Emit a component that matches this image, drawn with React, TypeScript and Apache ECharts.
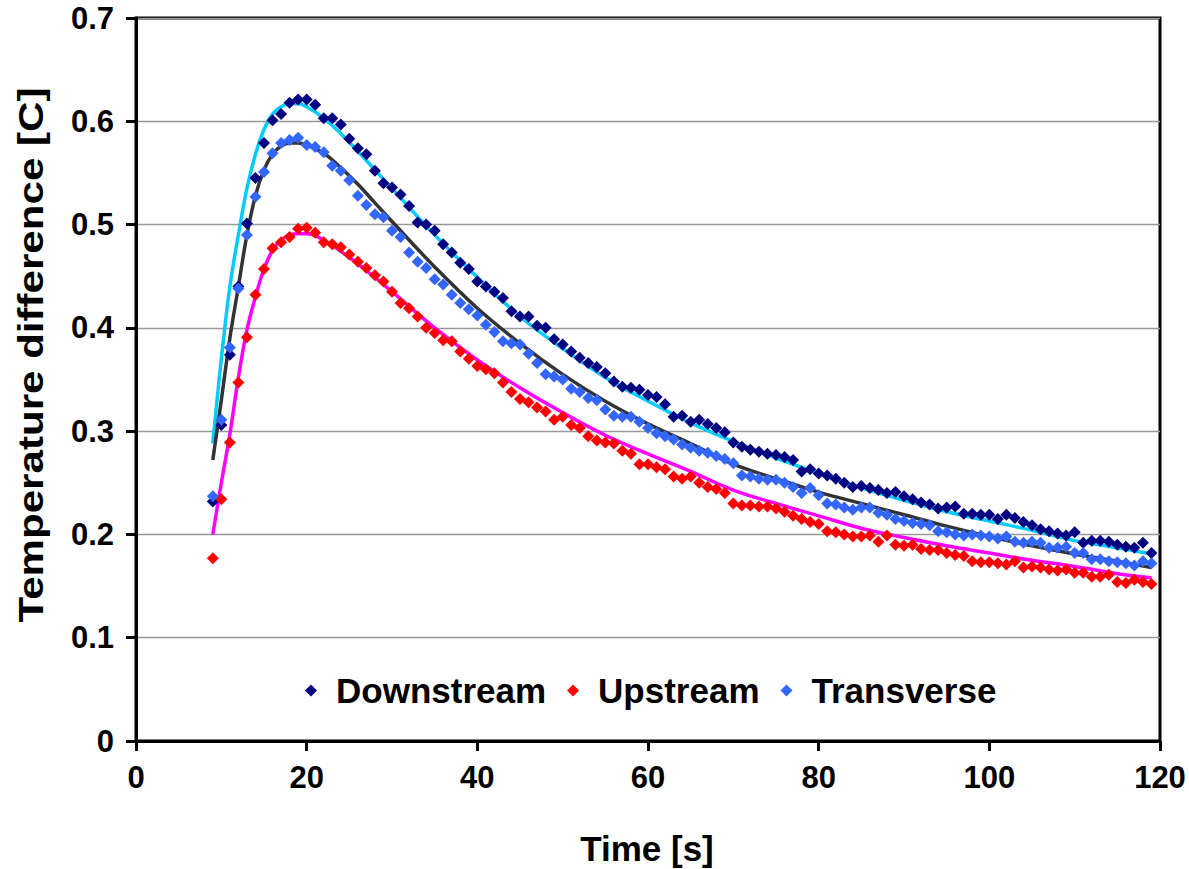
import React, { useEffect, useRef } from "react";
import * as echarts from "echarts";

const FONT = '"Liberation Sans", Arial, sans-serif';

// Time of each measured sample [s]
const timeS = [
  9, 10, 11, 12, 13, 14, 15, 16, 17, 18,
  19, 20, 21, 22, 23, 24, 25, 26, 27, 28,
  29, 30, 31, 32, 33, 34, 35, 36, 37, 38,
  39, 40, 41, 42, 43, 44, 45, 46, 47, 48,
  49, 50, 51, 52, 53, 54, 55, 56, 57, 58,
  59, 60, 61, 62, 63, 64, 65, 66, 67, 68,
  69, 70, 71, 72, 73, 74, 75, 76, 77, 78,
  79, 80, 81, 82, 83, 84, 85, 86, 87, 88,
  89, 90, 91, 92, 93, 94, 95, 96, 97, 98,
  99, 100, 101, 102, 103, 104, 105, 106, 107, 108,
  109, 110, 111, 112, 113, 114, 115, 116, 117, 118, 119,
];

const downstream = [
  0.232, 0.306, 0.374, 0.44, 0.501, 0.545, 0.579, 0.601, 0.607, 0.618,
  0.621, 0.621, 0.616, 0.603, 0.603, 0.597, 0.583, 0.574, 0.568, 0.552,
  0.54, 0.536, 0.529, 0.518, 0.502, 0.5, 0.494, 0.481, 0.473, 0.463,
  0.457, 0.445, 0.44, 0.435, 0.429, 0.416, 0.411, 0.411, 0.402, 0.4,
  0.389, 0.384, 0.377, 0.371, 0.366, 0.362, 0.356, 0.348, 0.343, 0.342,
  0.34, 0.335, 0.333, 0.326, 0.314, 0.315, 0.309, 0.311, 0.307, 0.303,
  0.299, 0.289, 0.285, 0.282, 0.28, 0.278, 0.277, 0.275, 0.272, 0.261,
  0.263, 0.259, 0.257, 0.254, 0.25, 0.246, 0.247, 0.245, 0.243, 0.24,
  0.241, 0.237, 0.234, 0.231, 0.229, 0.225, 0.226, 0.227, 0.22, 0.22,
  0.219, 0.219, 0.215, 0.219, 0.216, 0.212, 0.209, 0.205, 0.203, 0.201,
  0.199, 0.202, 0.192, 0.194, 0.194, 0.193, 0.19, 0.188, 0.187, 0.192, 0.182,
];

const upstream = [
  0.177, 0.234, 0.289, 0.347, 0.391, 0.432, 0.457, 0.477, 0.483, 0.488,
  0.496, 0.497, 0.492, 0.483, 0.481, 0.478, 0.471, 0.464, 0.458, 0.451,
  0.445, 0.435, 0.424, 0.419, 0.411, 0.4, 0.395, 0.388, 0.387, 0.377,
  0.37, 0.363, 0.36, 0.356, 0.347, 0.338, 0.331, 0.328, 0.323, 0.319,
  0.311, 0.314, 0.306, 0.303, 0.295, 0.291, 0.289, 0.288, 0.281, 0.278,
  0.268, 0.268, 0.265, 0.263, 0.256, 0.254, 0.256, 0.25, 0.246, 0.244,
  0.24, 0.23, 0.228, 0.228, 0.227, 0.227, 0.225, 0.222, 0.218, 0.215,
  0.212, 0.21, 0.203, 0.202, 0.2, 0.198, 0.198, 0.199, 0.193, 0.199,
  0.19, 0.189, 0.19, 0.186, 0.185, 0.185, 0.182, 0.18, 0.179, 0.174,
  0.173, 0.173, 0.172, 0.171, 0.174, 0.168, 0.169, 0.168, 0.166, 0.165,
  0.166, 0.163, 0.163, 0.159, 0.159, 0.161, 0.154, 0.153, 0.156, 0.154, 0.152,
];

const transverse = [
  0.237, 0.311, 0.381, 0.438, 0.49, 0.527, 0.551, 0.569, 0.579, 0.582,
  0.584, 0.577, 0.575, 0.57, 0.557, 0.552, 0.543, 0.528, 0.519, 0.51,
  0.507, 0.494, 0.488, 0.473, 0.464, 0.458, 0.447, 0.442, 0.432, 0.424,
  0.418, 0.412, 0.403, 0.396, 0.387, 0.385, 0.384, 0.375, 0.366, 0.355,
  0.353, 0.35, 0.341, 0.338, 0.332, 0.33, 0.321, 0.315, 0.314, 0.314,
  0.309, 0.303, 0.298, 0.295, 0.292, 0.287, 0.284, 0.281, 0.279, 0.276,
  0.273, 0.269, 0.257, 0.256, 0.254, 0.253, 0.253, 0.25, 0.246, 0.24,
  0.245, 0.238, 0.23, 0.229, 0.226, 0.224, 0.226, 0.226, 0.221, 0.219,
  0.215, 0.213, 0.211, 0.21, 0.209, 0.203, 0.202, 0.2, 0.199, 0.2,
  0.199, 0.198, 0.196, 0.198, 0.193, 0.192, 0.193, 0.192, 0.187, 0.187,
  0.188, 0.182, 0.182, 0.176, 0.176, 0.174, 0.173, 0.172, 0.17, 0.174, 0.172,
];

// Fitted model curves
const fitTimes = [
  9, 10, 11, 12, 13, 14, 15, 16, 17, 18, 19, 20,
  22, 24, 26, 28, 30,
  35, 40, 45, 50, 55, 60, 65, 70, 75, 80, 85, 90, 95, 100, 105, 110, 115, 119,
];
const fitDownstream = [
  0.288, 0.37, 0.44, 0.49, 0.535, 0.568, 0.592, 0.607, 0.614, 0.617, 0.617, 0.614,
  0.603, 0.588, 0.571, 0.553, 0.535,
  0.49, 0.449, 0.411, 0.38, 0.352, 0.329, 0.308, 0.29, 0.274, 0.259, 0.245, 0.233, 0.222, 0.213, 0.204, 0.194, 0.187, 0.181,
];
const fitUpstream = [
  0.2, 0.25, 0.297, 0.352, 0.398, 0.43, 0.457, 0.475, 0.485, 0.49, 0.491, 0.491,
  0.485, 0.474, 0.462, 0.449, 0.435,
  0.4, 0.369, 0.342, 0.318, 0.296, 0.278, 0.261, 0.243, 0.23, 0.218, 0.206, 0.197, 0.189, 0.182, 0.175, 0.169, 0.162, 0.158,
];
const fitTransverse = [
  0.272, 0.33, 0.39, 0.44, 0.49, 0.528, 0.553, 0.568, 0.576, 0.579, 0.579, 0.577,
  0.569, 0.555, 0.539, 0.521, 0.503,
  0.459, 0.419, 0.385, 0.355, 0.329, 0.307, 0.288, 0.268, 0.254, 0.241, 0.23, 0.219, 0.208, 0.198, 0.189, 0.181, 0.174, 0.168,
];

const xTicks = { min: 0, max: 120, interval: 20 };
const yTicks = { min: 0, max: 0.7, interval: 0.1 };

const pair = (xs: number[], ys: number[]) => xs.map((x, i) => [x, ys[i]]);

export default function App() {
  const ref = useRef<HTMLDivElement>(null);
  useEffect(() => {
    const chart = echarts.init(ref.current!, null, { renderer: "svg" });
    const axisLine = { show: true, lineStyle: { color: "#000", width: 3 } };
    const axisTick = { show: true, length: 10, lineStyle: { color: "#000", width: 3 } };
    const labelStyle = { fontSize: 31, fontWeight: "bold", color: "#000", fontFamily: FONT };
    const fitLine = (name: string, ys: number[], color: string) => ({
      name,
      type: "line",
      data: pair(fitTimes, ys),
      smooth: 0.4,
      showSymbol: false,
      symbol: "none",
      lineStyle: { color, width: 3.5 },
      z: 2,
    });
    const scatter = (name: string, ys: number[], color: string, z: number) => ({
      name,
      type: "scatter",
      data: pair(timeS, ys),
      symbol: "diamond",
      symbolSize: 12,
      itemStyle: { color, opacity: 1 },
      z,
    });
    chart.setOption({
      animation: false,
      backgroundColor: "#fff",
      grid: {
        left: 136,
        right: 29,
        top: 18,
        bottom: 128,
        show: true,
        borderColor: "#000",
        borderWidth: 3,
        containLabel: false,
      },
      xAxis: {
        type: "value",
        ...xTicks,
        axisLine,
        axisTick,
        axisLabel: { ...labelStyle, margin: 21 },
        splitLine: { show: false },
      },
      yAxis: {
        type: "value",
        ...yTicks,
        axisLine,
        axisTick,
        axisLabel: {
          ...labelStyle,
          margin: 22,
          formatter: (v: number) => (v === 0 ? "0" : v.toFixed(1)),
        },
        splitLine: { show: true, lineStyle: { color: "#999", width: 1.3 } },
      },
      legend: {
        data: [
          { name: "Downstream", icon: "diamond" },
          { name: "Upstream", icon: "diamond" },
          { name: "Transverse", icon: "diamond" },
        ],
        top: 668,
        left: 300,
        itemWidth: 12,
        itemHeight: 12,
        itemGap: 21,
        textStyle: {
          fontSize: 35,
          fontWeight: "bold",
          color: "#000",
          fontFamily: FONT,
          padding: [0, 0, 0, 14],
        },
      },
      graphic: [
        {
          type: "text",
          x: 31,
          y: 355,
          rotation: Math.PI / 2,
          scaleX: 1.17,
          style: {
            text: "Temperature difference [C]",
            font: `bold 36px ${FONT}`,
            fill: "#000",
            textAlign: "center",
            textVerticalAlign: "middle",
          },
        },
        {
          type: "text",
          x: 647,
          y: 848,
          style: {
            text: "Time [s]",
            font: `bold 35px ${FONT}`,
            fill: "#000",
            textAlign: "center",
            textVerticalAlign: "middle",
          },
        },
      ],
      series: [
        fitLine("Downstream fit", fitDownstream, "#00CCFF"),
        fitLine("Upstream fit", fitUpstream, "#FF00FF"),
        fitLine("Transverse fit", fitTransverse, "#333333"),
        scatter("Downstream", downstream, "#000080", 3),
        scatter("Upstream", upstream, "#FF0000", 4),
        scatter("Transverse", transverse, "#3366FF", 5),
      ],
    });
    return () => chart.dispose();
  }, []);
  return (
    <div
      ref={ref}
      style={{ position: "absolute", left: 0, top: 0, width: 1189, height: 869 }}
    />
  );
}
